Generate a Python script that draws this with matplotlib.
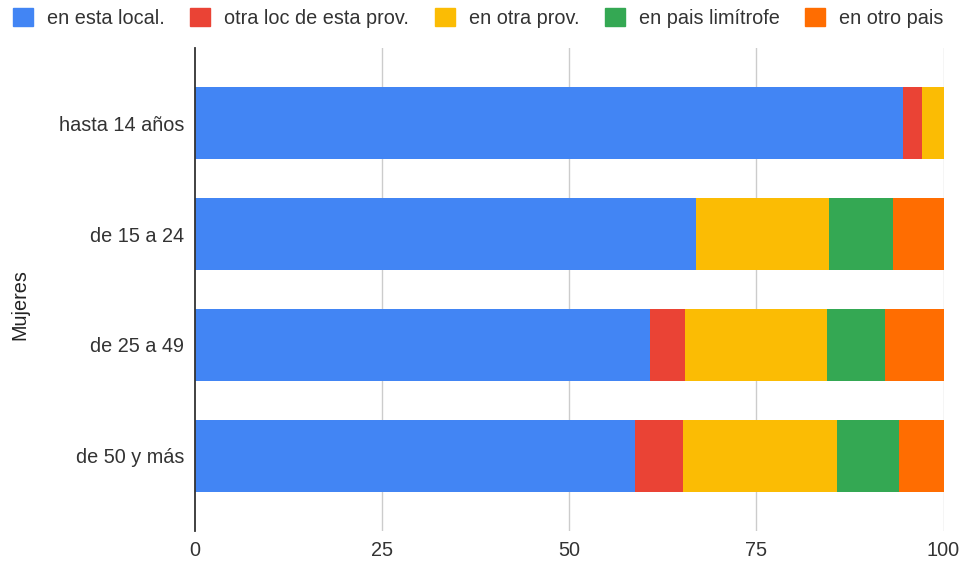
import matplotlib
matplotlib.use("Agg")
import matplotlib.pyplot as plt
from matplotlib.patches import Patch
import numpy as np

plt.rcParams['font.family'] = ['Liberation Sans', 'DejaVu Sans']

categories = ["hasta 14 años", "de 15 a 24", "de 25 a 49", "de 50 y más"]
series_names = ["en esta local.", "otra loc de esta prov.", "en otra prov.",
                "en pais limítrofe", "en otro pais"]
en_esta_local = [94.6, 67.0, 60.8, 58.8]
otra_loc_prov = [2.5, 0.0, 4.6, 6.4]
en_otra_prov = [2.9, 17.7, 19.1, 20.6]
pais_limitrofe = [0.0, 8.6, 7.7, 8.2]
otro_pais = [0.0, 6.7, 7.8, 6.0]
xticks = [0, 25, 50, 75, 100]
colors = ["#4285F4", "#EA4335", "#FBBC04", "#34A853", "#FF6D01"]

series = [en_esta_local, otra_loc_prov, en_otra_prov, pais_limitrofe, otro_pais]
FS = 14.3

fig = plt.figure(figsize=(9.63, 5.61), dpi=100)
ax = fig.add_axes([195 / 963, 1 - 531 / 561, (943.5 - 195) / 963, (531 - 48) / 561])

y = np.arange(len(categories))
left = np.zeros(len(categories))
for vals, c, name in zip(series, colors, series_names):
    vals = np.array(vals)
    ax.barh(y, vals, left=left, height=0.65, color=c, label=name, zorder=3)
    left += vals

ax.set_xlim(0, 100)
ax.set_ylim(3.68, -0.68)
ax.set_yticks(y)
ax.set_yticklabels(categories, fontsize=FS, color="#333333")
ax.set_xticks(xticks)
ax.set_xticklabels([str(t) for t in xticks], fontsize=FS, color="#333333")
ax.tick_params(axis='both', length=0)
ax.tick_params(axis='y', pad=8)
ax.tick_params(axis='x', pad=7)

for t in xticks[1:]:
    ax.axvline(t, color="#cccccc", lw=1, zorder=1)

for s in ["top", "right", "bottom"]:
    ax.spines[s].set_visible(False)
ax.spines["left"].set_color("#333333")
ax.spines["left"].set_linewidth(1.3)
ax.spines["left"].set_zorder(4)

ax.set_ylabel("Mujeres", fontsize=FS, color="#222222")
ax.yaxis.set_label_coords(-166 / 748.5, 0.468)

handles = [Patch(facecolor=c, edgecolor=c) for c in colors]
fig.legend(handles, series_names, loc="center left",
           bbox_to_anchor=(13 / 963, 1 - 18 / 561), ncol=5, frameon=False,
           fontsize=FS, handlelength=1.0, handleheight=1.0,
           handletextpad=0.7, columnspacing=1.3, borderpad=0,
           borderaxespad=0, labelcolor="#333333")

fig.savefig("out.png", dpi=100, facecolor="white")
